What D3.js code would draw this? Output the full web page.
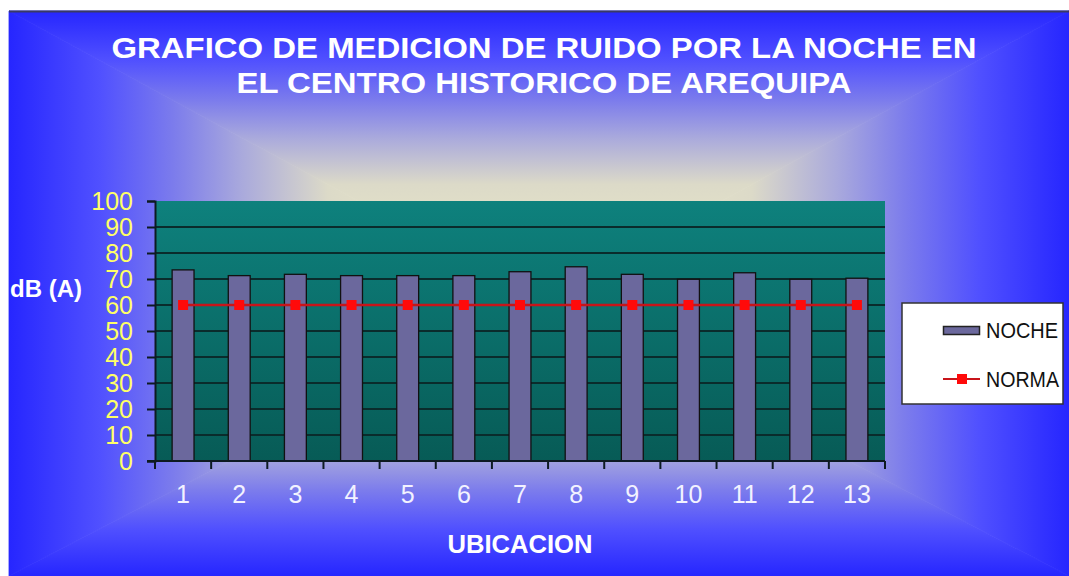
<!DOCTYPE html>
<html>
<head>
<meta charset="utf-8">
<script src="https://cdn.jsdelivr.net/npm/d3@7"></script>
<style>
	html, body { margin: 0; padding: 0; background: #fff; }
	svg { display: block; }
</style>
</head>
<body>
<svg></svg>
<script>
const ubicaciones = ['1','2','3','4','5','6','7','8','9','10','11','12','13'];
const noche = [73.5, 71.3, 71.8, 71.3, 71.3, 71.3, 72.8, 74.7, 71.8, 69.9, 72.4, 69.9, 70.3];
const norma = [60, 60, 60, 60, 60, 60, 60, 60, 60, 60, 60, 60, 60];
const yTicks = [0, 10, 20, 30, 40, 50, 60, 70, 80, 90, 100];
const titleLines = ['GRAFICO DE MEDICION DE RUIDO POR LA NOCHE EN', 'EL CENTRO HISTORICO DE AREQUIPA'];
const legendNames = ['NOCHE', 'NORMA'];

const width = 1069;
const height = 576;
const plot = {left: 155, right: 885, top: 201, bottom: 461};
const bg = {x0: 9, y0: 11, x1: 1069, y1: 576, cx: 540, cy: 300};
const bgStops = [
	[0, '#f2f0c8'], [0.4, '#dcdac8'], [0.56, '#aaaadc'], [0.69, '#7c7cec'],
	[0.83, '#5050ff'], [1, '#2626ff']
];
const font = 'Liberation Sans, Arial, sans-serif';

var svg = d3.select('svg').attr('width', width).attr('height', height);
var defs = svg.append('defs');

// rectangular "from center" background, built from four triangles
function bgGradient(id, x2, y2){
	var g = defs.append('linearGradient').attr('id', id)
	.attr('gradientUnits', 'userSpaceOnUse')
	.attr('x1', bg.cx).attr('y1', bg.cy).attr('x2', x2).attr('y2', y2);
	g.selectAll('stop').data(bgStops).enter().append('stop')
	.attr('offset', d => d[0]).attr('stop-color', d => d[1]);
}
bgGradient('bgTop', bg.cx, bg.y0);
bgGradient('bgBottom', bg.cx, bg.y1);
bgGradient('bgLeft', bg.x0, bg.cy);
bgGradient('bgRight', bg.x1, bg.cy);

var tris = [
	{id: 'bgTop', p: [[bg.x0,bg.y0],[bg.x1,bg.y0],[bg.cx,bg.cy]]},
	{id: 'bgBottom', p: [[bg.x0,bg.y1],[bg.x1,bg.y1],[bg.cx,bg.cy]]},
	{id: 'bgLeft', p: [[bg.x0,bg.y0],[bg.x0,bg.y1],[bg.cx,bg.cy]]},
	{id: 'bgRight', p: [[bg.x1,bg.y0],[bg.x1,bg.y1],[bg.cx,bg.cy]]}
];
svg.append('g').selectAll('polygon').data(tris).enter().append('polygon')
.attr('points', d => d.p.map(q => q.join(',')).join(' '))
.attr('fill', d => 'url(#' + d.id + ')')
.attr('stroke', d => 'url(#' + d.id + ')').attr('stroke-width', 0.8);

svg.append('line')
.attr('x1', bg.x0).attr('x2', bg.x1).attr('y1', bg.y0 + 0.5).attr('y2', bg.y0 + 0.5)
.attr('stroke', '#3a3a66').attr('stroke-width', 2);

// plot area fill
var plotGrad = defs.append('linearGradient').attr('id', 'plotFill')
.attr('x1', 0).attr('y1', 0).attr('x2', 0).attr('y2', 1);
plotGrad.append('stop').attr('offset', 0).attr('stop-color', '#0e817d');
plotGrad.append('stop').attr('offset', 1).attr('stop-color', '#075b56');

// scales
var xScale = d3.scaleBand().domain(ubicaciones).range([plot.left, plot.right]).padding(0);
var yScale = d3.scaleLinear().domain([0, 100]).range([plot.bottom, plot.top]);
var barW = xScale.bandwidth() * 0.39;
var cx = d => xScale(d) + xScale.bandwidth() / 2;

svg.append('rect')
.attr('x', plot.left).attr('y', plot.top)
.attr('width', plot.right - plot.left).attr('height', plot.bottom - plot.top)
.attr('fill', 'url(#plotFill)');

// gridlines
svg.append('g').selectAll('line').data(yTicks.filter(d => d > 0 && d < 100)).enter().append('line')
.attr('x1', plot.left).attr('x2', plot.right)
.attr('y1', d => yScale(d)).attr('y2', d => yScale(d))
.attr('stroke', '#0a2c2c').attr('stroke-width', 2.2);

// bars
svg.append('g').selectAll('rect').data(ubicaciones).enter().append('rect')
.attr('x', d => cx(d) - barW / 2)
.attr('y', (d, i) => yScale(noche[i]))
.attr('width', barW)
.attr('height', (d, i) => yScale(0) - yScale(noche[i]))
.attr('fill', '#6b689d').attr('stroke', '#111').attr('stroke-width', 1.3);

// norma line
var line = d3.line().x((d, i) => cx(ubicaciones[i])).y(d => yScale(d));
svg.append('path').datum(norma)
.attr('d', line).attr('fill', 'none')
.attr('stroke', '#c8141a').attr('stroke-width', 2.5);
svg.append('g').selectAll('rect').data(norma).enter().append('rect')
.attr('x', (d, i) => cx(ubicaciones[i]) - 5).attr('y', d => yScale(d) - 5)
.attr('width', 10).attr('height', 10).attr('fill', '#ff0a0a');

// axes
var yAxis = svg.append('g').attr('transform', 'translate(' + plot.left + ',0)')
.call(d3.axisLeft(yScale).tickValues(yTicks).tickSize(8).tickFormat(''));
var xAxis = svg.append('g').attr('transform', 'translate(0,' + plot.bottom + ')')
.call(d3.axisBottom(xScale).tickSize(0).tickFormat(''));
xAxis.append('g').selectAll('line').data(ubicaciones.concat(['end'])).enter().append('line')
.attr('x1', (d, i) => plot.left + i * xScale.step()).attr('x2', (d, i) => plot.left + i * xScale.step())
.attr('y1', 0).attr('y2', 8);
svg.selectAll('.domain').attr('stroke', '#0d1a22').attr('stroke-width', 2);
svg.selectAll('.tick line').attr('stroke', '#0d1a22').attr('stroke-width', 2);
xAxis.selectAll('g line').attr('stroke', '#0d1a22').attr('stroke-width', 2);
xAxis.select('.domain').attr('d', 'M' + (plot.left - 8) + ',0H' + plot.right);

// tick labels
svg.append('g').selectAll('text').data(yTicks).enter().append('text')
.attr('x', 133).attr('y', d => yScale(d)).attr('dy', '0.36em')
.attr('text-anchor', 'end').attr('font-family', font).attr('font-size', 25)
.attr('fill', '#ffff66').text(d => d);

svg.append('g').selectAll('text').data(ubicaciones).enter().append('text')
.attr('x', d => cx(d)).attr('y', 503)
.attr('text-anchor', 'middle').attr('font-family', font).attr('font-size', 25)
.attr('fill', '#f2f2ff').text(d => d);

// titles
svg.append('g').selectAll('text').data(titleLines).enter().append('text')
.attr('x', 544).attr('y', (d, i) => 58 + i * 34.5)
.attr('text-anchor', 'middle').attr('font-family', font).attr('font-weight', 'bold')
.attr('font-size', 30).attr('fill', '#fff')
.attr('textLength', (d, i) => [865, 615][i]).attr('lengthAdjust', 'spacingAndGlyphs')
.text(d => d);

svg.append('text').attr('x', 10).attr('y', 297)
.attr('font-family', font).attr('font-weight', 'bold').attr('font-size', 24)
.attr('fill', '#fff').text('dB (A)');

svg.append('text').attr('x', 520).attr('y', 553)
.attr('text-anchor', 'middle').attr('font-family', font).attr('font-weight', 'bold')
.attr('font-size', 25.6).attr('fill', '#fff').text('UBICACION');

// legend
var legend = svg.append('g');
legend.append('rect').attr('x', 902).attr('y', 303).attr('width', 161).attr('height', 101)
.attr('fill', '#fff').attr('stroke', '#333').attr('stroke-width', 1.5);
legend.append('rect').attr('x', 943.5).attr('y', 326.5).attr('width', 36).attr('height', 8)
.attr('fill', '#6b689d').attr('stroke', '#222').attr('stroke-width', 1.5);
legend.append('line').attr('x1', 943).attr('x2', 980).attr('y1', 379).attr('y2', 379)
.attr('stroke', '#c8141a').attr('stroke-width', 2);
legend.append('rect').attr('x', 957).attr('y', 374).attr('width', 10).attr('height', 10)
.attr('fill', '#ff0a0a');
legend.selectAll('text.item').data(legendNames).enter().append('text')
.attr('class', 'item').attr('x', 986).attr('y', (d, i) => 330 + i * 49).attr('dy', '0.36em')
.attr('font-family', font).attr('font-size', 22).attr('fill', '#111')
.attr('textLength', (d, i) => [72, 73][i]).attr('lengthAdjust', 'spacingAndGlyphs')
.text(d => d);
</script>
</body>
</html>
